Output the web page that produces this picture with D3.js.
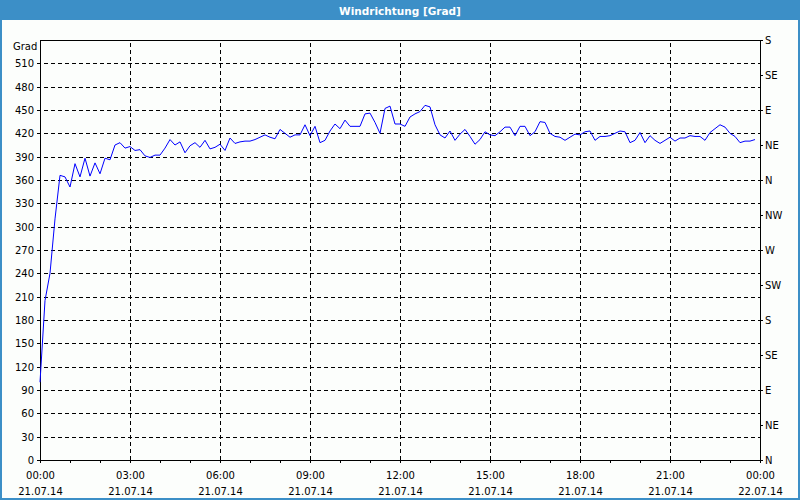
<!DOCTYPE html>
<html><head><meta charset="utf-8">
<script src="https://cdn.jsdelivr.net/npm/d3@7"></script>
<style>
body{margin:0;background:#fff}
svg{display:block}
text{font-family:"DejaVu Sans",Tahoma,sans-serif;font-size:10px;fill:#000}
</style>
</head><body><svg id="c" width="800" height="500"></svg>
<script>
// ---- data ----
const chartTitle = "Windrichtung [Grad]";
const yUnit = "Grad";
const startDate = new Date(2014, 6, 21, 0, 0);
const endDate = new Date(2014, 6, 22, 0, 0);
const stepMinutes = 10;
const directionValues = [
  100,205,240,310,366,364,351,381,364,388,365,382,368,388,386,405,408,401,403,398,
  399,391,389,392,392,401,412,405,409,395,404,408,402,411,400,402,406,398,414,407,
  409,410,410,412,415,418,415,413,425,420,415,418,418,431,417,429,408,411,423,432,
  426,437,429,429,429,445,446,434,420,452,455,432,432,429,441,445,448,456,454,431,
  418,414,423,411,419,425,416,406,412,422,418,417,422,428,428,417,429,429,417,422,
  435,434,420,416,415,411,415,419,418,422,423,411,416,416,417,420,423,422,408,411,
  421,408,417,411,407,411,415,410,414,414,417,416,416,411,421,426,431,428,420,416,
  408,410,410,412
];
const yTicks = [0,30,60,90,120,150,180,210,240,270,300,330,360,390,420,450,480,510];
const compassTicks = [0,45,90,135,180,225,270,315,360,405,450,495,540];
const compassLabels = ["N","NE","E","SE","S","SW","W","NW","N","NE","E","SE","S"];
const yMax = 540;

// ---- drawing ----
const svg = d3.select("#c");
const W = 800, H = 500;
const m = {left:40, right:760, top:40, bottom:460};
const blue = "#3c8fc7";

svg.append("rect").attr("width", W).attr("height", H).attr("fill", "#fcfefc");
svg.append("rect").attr("width", W).attr("height", 20).attr("fill", blue);
svg.append("rect").attr("x", 1).attr("y", 1).attr("width", W - 2).attr("height", H - 2)
  .attr("fill", "none").attr("stroke", blue).attr("stroke-width", 2);
svg.append("text").attr("x", 400).attr("y", 14.5).attr("text-anchor", "middle")
  .style("font-weight", "bold").style("font-size", "10.5px").style("fill", "#fff").text(chartTitle);

const x = d3.scaleTime().domain([startDate, endDate]).range([m.left, m.right]);
const y = d3.scaleLinear().domain([0, yMax]).range([m.bottom, m.top]);

// left axis with gridlines
const gL = svg.append("g").attr("transform", `translate(${m.left},0)`)
  .call(d3.axisLeft(y).tickValues(yTicks).tickSizeOuter(0).tickSize(0));
gL.select(".domain").remove();
gL.selectAll(".tick line")
  .attr("x1", -3)
  .attr("x2", d => d === 0 ? 0 : m.right - m.left)
  .attr("stroke", "#000")
  .attr("stroke-dasharray", d => d === 0 ? null : "4,3")
  .attr("shape-rendering", "crispEdges");
gL.selectAll(".tick text")
  .attr("x", -6)
  .attr("dy", "0.36em")
  .attr("text-anchor", "end")
  .style("font-size", "10px").style("font-family", null);

// vertical gridlines at major ticks
const majorTicks = d3.timeHour.every(3).range(startDate, d3.timeMinute.offset(endDate, 1));
const gV = svg.append("g").attr("transform", `translate(0,${m.bottom})`)
  .call(d3.axisBottom(x).tickValues(majorTicks.filter(d => +d !== +startDate && +d !== +endDate))
    .tickSize(-(m.bottom - m.top)).tickFormat(""));
gV.select(".domain").remove();
gV.selectAll(".tick line").attr("stroke", "#000").attr("stroke-dasharray", "4,3")
  .attr("shape-rendering", "crispEdges");

// minor hourly ticks
const hourly = d3.timeHour.every(1).range(startDate, d3.timeMinute.offset(endDate, 1));
const gB = svg.append("g").attr("transform", `translate(0,${m.bottom})`)
  .call(d3.axisBottom(x).tickValues(hourly).tickSize(3).tickSizeOuter(0).tickFormat(""));
gB.select(".domain").remove();
gB.selectAll(".tick line").attr("stroke", "#000").attr("shape-rendering", "crispEdges");

// bottom labels (two lines)
const fmtT = d3.timeFormat("%H:%M"), fmtD = d3.timeFormat("%d.%m.%y");
const gX = svg.append("g").attr("transform", `translate(0,${m.bottom})`)
  .call(d3.axisBottom(x).tickValues(majorTicks).tickSize(0).tickFormat(""));
gX.select(".domain").remove();
gX.selectAll(".tick").each(function(d) {
  const t = d3.select(this).select("text").attr("y", null).attr("dy", null)
    .style("font-size", "10px").style("font-family", null);
  t.append("tspan").attr("x", 0).attr("y", 19).text(fmtT(d));
  t.append("tspan").attr("x", 0).attr("y", 35).text(fmtD(d));
});

// right compass axis
const gR = svg.append("g").attr("transform", `translate(${m.right},0)`)
  .call(d3.axisRight(y).tickValues(compassTicks).tickSize(3).tickSizeOuter(0)
    .tickFormat((d, i) => compassLabels[i]));
gR.select(".domain").remove();
gR.selectAll(".tick line").attr("stroke", "#000").attr("shape-rendering", "crispEdges");
gR.selectAll(".tick text").attr("x", 5).attr("text-anchor", "start")
  .style("font-size", "10px").style("font-family", null);

// frame lines of plot
const frame = svg.append("g").attr("stroke", "#000").attr("shape-rendering", "crispEdges");
frame.append("line").attr("x1", m.left).attr("x2", m.left).attr("y1", m.top).attr("y2", m.bottom + 3);
frame.append("line").attr("x1", m.right).attr("x2", m.right).attr("y1", m.top).attr("y2", m.bottom + 3);
frame.append("line").attr("x1", m.left).attr("x2", m.right).attr("y1", m.top).attr("y2", m.top);
frame.append("line").attr("x1", m.left - 3).attr("x2", m.right).attr("y1", m.bottom).attr("y2", m.bottom);

// unit label
svg.append("text").attr("x", 13).attr("y", 50).text(yUnit);

// data line
const line = d3.line()
  .x((d, i) => x(d3.timeMinute.offset(startDate, i * stepMinutes)))
  .y(d => y(d));
svg.append("path").datum(directionValues)
  .attr("d", line).attr("fill", "none").attr("stroke", "#0000ff").attr("stroke-width", 1);
</script>
</body></html>
